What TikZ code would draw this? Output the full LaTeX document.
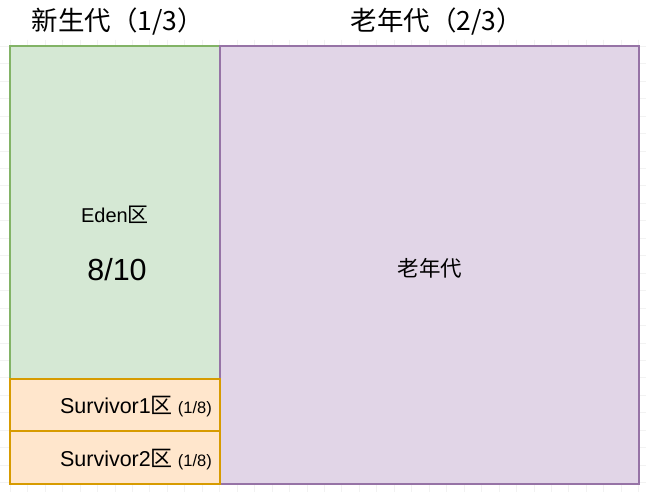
\documentclass[tikz,border=0pt]{standalone}
\usepackage{fontspec}
\setmainfont{Liberation Sans}
\newfontfamily\cjk{Noto Sans CJK SC}
\definecolor{edenfill}{HTML}{D5E8D4}
\definecolor{edenline}{HTML}{82B366}
\definecolor{oldfill}{HTML}{E1D5E7}
\definecolor{oldline}{HTML}{9673A6}
\definecolor{survfill}{HTML}{FFE6CC}
\definecolor{survline}{HTML}{D79B00}
\definecolor{gridminor}{HTML}{F2F2F2}
\tikzset{
  area/.style={draw, line width=1.5pt, inner sep=0pt, rectangle},
  edenbox/.style={area, fill=edenfill, draw=edenline},
  oldbox/.style={area, fill=oldfill, draw=oldline},
  survbox/.style={area, fill=survfill, draw=survline},
  txt/.style={inner sep=0pt, text=black},
}
\begin{document}
\begin{tikzpicture}[x=1pt,y=-1pt]
\useasboundingbox (0,0) rectangle (646,492);
\fill[white] (0,0) rectangle (646,492);
% faint background grid
\foreach \k in {0,...,36} {
  \pgfmathsetmacro\xx{10+17.46*\k}
  \draw[gridminor, line width=0.5pt] (\xx,40) -- (\xx,492);
}
\foreach \k in {0,...,25} {
  \pgfmathsetmacro\yy{46+17.46*\k}
  \draw[gridminor, line width=0.5pt] (0,\yy) -- (646,\yy);
}
% boxes
\node[edenbox, minimum width=210pt, minimum height=333pt] (eden) at (115,212.5) {};
\node[oldbox, minimum width=419pt, minimum height=438pt] (old) at (429.5,265) {};
\node[survbox, minimum width=210pt, minimum height=52pt] (s1) at (115,405) {};
\node[survbox, minimum width=210pt, minimum height=53pt] (s2) at (115,457.5) {};
% titles
\node[txt, font=\cjk\fontsize{26.5}{30}\selectfont] (t1) at (118,22) {新生代（1/3）};
\node[txt, font=\cjk\fontsize{26.5}{30}\selectfont] (t2) at (437,22) {老年代（2/3）};
% labels
\node[txt, font=\fontsize{20}{24}\selectfont] (edenlbl) at (115,215) {Eden{\cjk\fontsize{21}{24}\selectfont 区}};
\node[txt, font=\fontsize{30.5}{34}\selectfont] (edenfrac) at (117,270) {8/10};
\node[txt, font=\cjk\fontsize{21.5}{24}\selectfont] (oldlbl) at (430,268) {老年代};
\node[txt, anchor=east, font=\fontsize{21.5}{24}\selectfont] (s1lbl) at (212,407) {Survivor1{\cjk\fontsize{22}{24}\selectfont 区}\kern5pt{\fontsize{16.5}{18}\selectfont(1/8)}};
\node[txt, anchor=east, font=\fontsize{21.5}{24}\selectfont] (s2lbl) at (212,460) {Survivor2{\cjk\fontsize{22}{24}\selectfont 区}\kern5pt{\fontsize{16.5}{18}\selectfont(1/8)}};
\end{tikzpicture}
\end{document}
